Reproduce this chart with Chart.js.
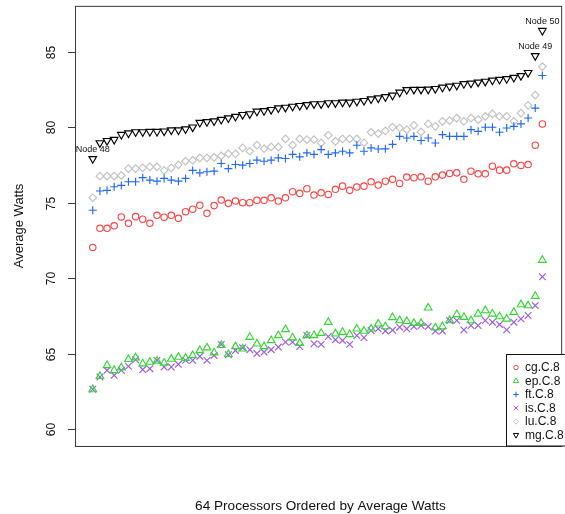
<!DOCTYPE html>
<html>
<head>
<meta charset="utf-8">
<script src="https://cdn.jsdelivr.net/npm/chart.js@4.4.1/dist/chart.umd.min.js"></script>
<style>
  html, body { margin: 0; padding: 0; background: #fff; overflow: hidden; }
</style>
</head>
<body>
<canvas id="chart" width="565" height="514"></canvas>
<script>
// processors, ordered by average watts
const processors = [1, 2, 3, 4, 5, 6, 7, 8, 9, 10, 11, 12, 13, 14, 15, 16, 17, 18, 19, 20,
  21, 22, 23, 24, 25, 26, 27, 28, 29, 30, 31, 32, 33, 34, 35, 36, 37, 38, 39, 40,
  41, 42, 43, 44, 45, 46, 47, 48, 49, 50, 51, 52, 53, 54, 55, 56, 57, 58, 59, 60,
  61, 62, 63, 64];

const cgC8 = [72.03, 73.3, 73.3, 73.46, 74.05, 73.63, 74.07, 73.9, 73.63, 74.16,
  74.03, 74.16, 73.96, 74.4, 74.56, 74.82, 74.29, 74.8, 75.17, 74.95,
  75.1, 74.99, 74.99, 75.15, 75.15, 75.32, 75.1, 75.32, 75.72, 75.61,
  75.92, 75.5, 75.65, 75.54, 75.88, 76.09, 75.81, 76.03, 76.09, 76.38,
  76.16, 76.42, 76.54, 76.27, 76.69, 76.65, 76.71, 76.42, 76.71, 76.82,
  76.93, 76.97, 76.54, 77.08, 76.91, 76.91, 77.41, 77.15, 77.15, 77.57,
  77.46, 77.52, 78.8, 80.21];

const epC8 = [62.62, 63.5, 64.22, 63.89, 64.07, 64.62, 64.73, 64.33, 64.44, 64.51,
  64.38, 64.64, 64.77, 64.7, 64.88, 65.21, 65.39, 65.06, 65.55, 64.95,
  65.47, 65.32, 66.09, 65.65, 65.47, 65.87, 66.2, 66.6, 66.05, 65.69,
  66.2, 66.2, 66.35, 67.08, 66.31, 66.42, 66.27, 66.64, 66.49, 66.64,
  66.97, 66.79, 67.4, 67.19, 67.14, 67.01, 67.01, 68.03, 66.71, 66.79,
  67.19, 67.59, 67.41, 67.19, 67.63, 67.85, 67.63, 67.45, 67.3, 67.74,
  68.25, 68.18, 68.8, 71.19];

const ftC8 = [74.49, 75.77, 75.81, 76.05, 76.14, 76.38, 76.38, 76.65, 76.49, 76.42,
  76.6, 76.49, 76.42, 76.6, 77.13, 76.97, 77.04, 77.08, 77.59, 77.25,
  77.52, 77.48, 77.59, 77.81, 77.74, 77.81, 77.96, 77.92, 78.19, 78.03,
  78.29, 78.19, 78.51, 78.19, 78.29, 78.4, 78.29, 78.8, 78.4, 78.62,
  78.55, 78.56, 78.86, 79.39, 79.28, 79.39, 79.11, 79.28, 78.95, 79.5,
  79.39, 79.39, 79.39, 79.83, 79.72, 79.99, 79.99, 79.66, 79.94, 80.05,
  80.21, 80.6, 81.26, 83.42];

const isC8 = [62.64, 63.45, 63.89, 63.56, 63.89, 64.16, 64.59, 63.94, 64.0, 64.55,
  64.11, 64.11, 64.29, 64.55, 64.55, 64.82, 64.55, 64.88, 65.61, 64.93,
  65.21, 65.39, 65.26, 65.0, 65.1, 65.26, 65.43, 65.76, 65.76, 65.47,
  66.2, 65.65, 65.61, 66.13, 65.92, 65.87, 65.61, 66.2, 66.05, 66.53,
  66.64, 66.5, 66.55, 66.75, 66.64, 66.79, 66.86, 66.79, 66.49, 66.49,
  67.19, 67.19, 66.57, 66.86, 66.86, 67.19, 67.08, 66.93, 66.57, 67.08,
  67.3, 67.52, 68.18, 70.09];

const luC8 = [75.32, 76.75, 76.75, 76.75, 76.8, 77.25, 77.25, 77.3, 77.37, 77.37,
  77.13, 77.3, 77.5, 77.74, 77.8, 77.96, 77.96, 78.0, 78.1, 78.23,
  78.23, 78.62, 78.4, 78.8, 78.58, 78.69, 78.69, 79.22, 78.8, 79.22,
  79.17, 79.17, 78.95, 79.46, 79.06, 79.22, 79.22, 79.22, 78.95, 79.66,
  79.57, 79.75, 80.0, 79.94, 79.83, 80.12, 79.68, 80.21, 80.05, 80.38,
  80.43, 80.6, 80.38, 80.6, 80.49, 80.71, 80.87, 80.71, 80.71, 80.38,
  80.93, 81.44, 82.12, 84.01];

const mgC8 = [77.9, 78.95, 79.1, 79.17, 79.5, 79.6, 79.68, 79.68, 79.7, 79.7,
  79.73, 79.8, 79.8, 79.87, 79.99, 80.3, 80.35, 80.4, 80.5, 80.6,
  80.7, 80.82, 80.87, 81.04, 81.08, 81.15, 81.26, 81.3, 81.37, 81.42,
  81.48, 81.53, 81.53, 81.6, 81.6, 81.64, 81.64, 81.7, 81.75, 81.86,
  81.92, 82.0, 82.1, 82.3, 82.47, 82.49, 82.49, 82.5, 82.54, 82.63,
  82.7, 82.76, 82.87, 82.9, 82.97, 83.02, 83.1, 83.15, 83.2, 83.28,
  83.4, 83.6, 84.72, 86.39];

const seriesNames = ["cg.C.8", "ep.C.8", "ft.C.8", "is.C.8", "lu.C.8", "mg.C.8"];
const yTicks = [60, 65, 70, 75, 80, 85];

// outlier nodes marked on mg.C.8
const nodeNames = ["Node 48", "Node 49", "Node 50"];
const nodeProcessor = [1, 63, 64];

const xTitle = "64 Processors Ordered by Average Watts";
const yTitle = "Average Watts";

const FONT = '"Liberation Sans", Arial, Helvetica, sans-serif';

const styles = [
  { color: "#ff4545", pointStyle: "circle", radius: 3.2, rotation: 0 },
  { color: "#33d833", pointStyle: "triangle", radius: 4.4, rotation: 0 },
  { color: "#2068ff", pointStyle: "cross", radius: 4.0, rotation: 0 },
  { color: "#9a5ae8", pointStyle: "crossRot", radius: 4.7, rotation: 0 },
  { color: "#c2c2c2", pointStyle: "rectRot", radius: 3.8, rotation: 0 },
  { color: "#000000", pointStyle: "triangle", radius: 4.4, rotation: 180 },
];

const allSeries = [cgC8, epC8, ftC8, isC8, luC8, mgC8];

function toPoints(values) {
  return values.map((v, i) => ({ x: processors[i], y: v }));
}

const datasets = allSeries.map((values, k) => ({
  label: seriesNames[k],
  data: toPoints(values),
  showLine: false,
  pointStyle: styles[k].pointStyle,
  pointRadius: styles[k].radius,
  pointRotation: styles[k].rotation,
  pointBorderColor: styles[k].color,
  pointBackgroundColor: "rgba(0,0,0,0)",
  pointBorderWidth: 1.15,
  pointHoverRadius: styles[k].radius,
}));

// frame, axes text, node notes and the boxed legend, R style
const decorations = {
  id: "decorations",
  afterDatasetsDraw(chart) {
    const { ctx, chartArea } = chart;
    const yScale = chart.scales.y;
    ctx.save();

    ctx.strokeStyle = "#3a3a3a";
    ctx.lineWidth = 1;
    ctx.strokeRect(chartArea.left + 0.5, chartArea.top + 0.5,
      chartArea.right - chartArea.left + 2, chartArea.bottom - chartArea.top);

    ctx.fillStyle = "#111";
    ctx.font = "12px " + FONT;
    ctx.textAlign = "center";
    ctx.textBaseline = "middle";
    yTicks.forEach((t) => {
      const y = Math.round(yScale.getPixelForValue(t)) + 0.5;
      ctx.beginPath();
      ctx.moveTo(chartArea.left - 7, y);
      ctx.lineTo(chartArea.left, y);
      ctx.stroke();
      ctx.save();
      ctx.translate(52, y);
      ctx.rotate(-Math.PI / 2);
      ctx.fillText(String(t), 0, 0);
      ctx.restore();
    });

    ctx.font = "13px " + FONT;
    ctx.save();
    ctx.translate(19, (chartArea.top + chartArea.bottom) / 2);
    ctx.rotate(-Math.PI / 2);
    ctx.fillText(yTitle, 0, 0);
    ctx.restore();
    ctx.font = "13.6px " + FONT;
    ctx.fillText(xTitle, (chartArea.left + 566) / 2, 506);

    // node notes above the mg points
    const mgMeta = chart.getDatasetMeta(5);
    ctx.font = "9px " + FONT;
    ctx.textBaseline = "alphabetic";
    nodeNames.forEach((name, i) => {
      const pt = mgMeta.data[nodeProcessor[i] - 1];
      ctx.fillText(name, pt.x, pt.y - 7);
    });

    // legend box
    const boxX = 506.5, boxY = 354.5;
    ctx.fillStyle = "#fff";
    ctx.fillRect(boxX, boxY, 70, chartArea.bottom - boxY);
    ctx.strokeStyle = "#111";
    ctx.strokeRect(boxX, boxY, 70, chartArea.bottom - boxY);
    ctx.font = "12px " + FONT;
    ctx.textAlign = "left";
    ctx.textBaseline = "middle";
    seriesNames.forEach((name, k) => {
      const ly = 367.5 + k * 13.5;
      ctx.strokeStyle = styles[k].color;
      ctx.fillStyle = "rgba(0,0,0,0)";
      ctx.lineWidth = 1;
      Chart.helpers.drawPoint(ctx, {
        pointStyle: styles[k].pointStyle,
        rotation: styles[k].rotation,
        radius: styles[k].radius * 0.7,
        borderWidth: 1,
      }, 516, ly);
      ctx.fillStyle = "#111";
      ctx.fillText(name, 525, ly + 0.5);
    });

    ctx.restore();
  },
};

new Chart(document.getElementById("chart"), {
  type: "scatter",
  data: { datasets },
  options: {
    responsive: false,
    animation: false,
    events: [],
    layout: { padding: { left: 75, top: 4, right: 0, bottom: 68 } },
    scales: {
      x: { type: "linear", min: -1.49, max: 66.35, display: false },
      y: { type: "linear", min: 58.88, max: 88.03, display: false },
    },
    plugins: {
      legend: { display: false },
      tooltip: { enabled: false },
    },
  },
  plugins: [decorations],
});
</script>
</body>
</html>
